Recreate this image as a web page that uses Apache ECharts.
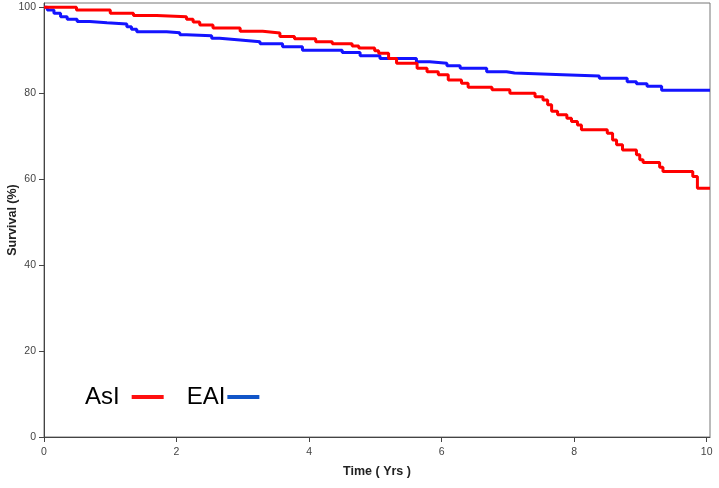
<!DOCTYPE html>
<html>
<head>
<meta charset="utf-8">
<script src="https://cdn.jsdelivr.net/npm/echarts@6/dist/echarts.min.js"></script>
<style>
  html, body { margin: 0; padding: 0; background: #fff; }
  #chart { width: 719px; height: 488px; }
</style>
</head>
<body>
<div id="chart"></div>
<script>
// Kaplan-Meier step data: [time (yrs), survival (%)] at each drop
const seriesNames = ['AsI', 'EAI'];
const asiCurve = [
  [0, 100], [0.49, 99.4], [1.0, 98.6], [1.35, 98.1], [1.7, 97.8], [2.15, 97.2],
  [2.25, 96.6], [2.35, 95.9], [2.55, 95.2], [2.96, 94.4], [3.3, 94.0], [3.56, 93.2],
  [3.78, 92.7], [4.1, 92.0], [4.35, 91.5], [4.65, 91.0], [4.75, 90.5], [4.99, 89.9],
  [5.05, 89.3], [5.2, 88.1], [5.32, 87.0], [5.63, 85.8], [5.78, 85.0], [5.95, 84.3],
  [6.1, 83.1], [6.3, 82.3], [6.4, 81.4], [6.76, 80.8], [7.03, 80.0], [7.41, 79.2],
  [7.53, 78.4], [7.6, 77.3], [7.66, 75.8], [7.75, 75.0], [7.89, 74.2], [7.96, 73.4],
  [8.05, 72.6], [8.11, 71.5], [8.5, 70.7], [8.58, 69.1], [8.64, 68.0], [8.73, 66.8],
  [8.94, 65.7], [8.99, 64.5], [9.04, 63.9], [9.29, 62.8], [9.34, 61.8], [9.79, 60.6],
  [9.86, 57.9], [10.05, 57.9]
];
const eaiCurve = [
  [0, 100], [0.05, 99.4], [0.15, 98.6], [0.25, 97.8], [0.35, 97.2], [0.5, 96.7],
  [0.69, 96.4], [0.95, 96.1], [1.25, 95.5], [1.32, 94.9], [1.4, 94.3], [1.85, 94.1],
  [2.05, 93.6], [2.15, 93.4], [2.53, 92.8], [2.65, 92.4], [2.96, 92.0], [3.26, 91.5],
  [3.6, 90.8], [3.9, 90.0], [4.5, 89.5], [4.77, 88.7], [5.07, 88.1], [5.62, 87.3],
  [5.82, 87.0], [6.08, 86.4], [6.28, 85.8], [6.68, 85.0], [6.98, 84.7], [7.1, 84.3],
  [7.83, 84.0], [8.38, 83.5], [8.8, 82.7], [8.94, 82.2], [9.1, 81.6], [9.32, 80.7],
  [10.05, 80.7]
];
const xTicks = [0, 2, 4, 6, 8, 10];
const yTicks = [0, 20, 40, 60, 80, 100];
const xTitle = 'Time ( Yrs )';
const yTitle = 'Survival (%)';

const chart = echarts.init(document.getElementById('chart'), null, { renderer: 'canvas' });
const axisCol = '#444';
chart.setOption({
  animation: false,
  backgroundColor: '#fff',
  textStyle: { fontFamily: 'Liberation Sans, Arial, sans-serif' },
  grid: {
    left: 44, right: 9, top: 3, bottom: 51,
    containLabel: false, outerBoundsMode: 'none',
    show: true, borderColor: '#777', borderWidth: 1
  },
  legend: {
    left: 85, top: 385, padding: 0,
    align: 'right',
    icon: 'rect',
    itemWidth: 32, itemHeight: 4,
    itemGap: 23,
    textStyle: { fontSize: 24, color: '#000', lineHeight: 24 },
    data: [
      { name: seriesNames[0], itemStyle: { color: '#ff1010' }, textStyle: { padding: [0, 7, 0, 0] } },
      { name: seriesNames[1], itemStyle: { color: '#1155c8' }, textStyle: { padding: [0, -3, 0, 0] } }
    ]
  },
  xAxis: {
    type: 'value', min: 0, max: 10.05, interval: 2,
    name: xTitle, nameLocation: 'middle', nameGap: 28, nameMoveOverlap: false,
    nameTextStyle: { fontWeight: 'bold', fontSize: 12.5, color: '#222' },
    axisLine: { show: true, lineStyle: { color: axisCol, width: 1 } },
    axisTick: { show: true, length: 5, lineStyle: { color: axisCol }, customValues: xTicks },
    axisLabel: { fontSize: 10.5, color: '#444', margin: 10, customValues: xTicks },
    splitLine: { show: false }
  },
  yAxis: {
    type: 'value', min: 0, max: 101, interval: 20,
    name: yTitle, nameLocation: 'middle', nameGap: 25, nameRotate: 90, nameMoveOverlap: false,
    nameTextStyle: { fontWeight: 'bold', fontSize: 12.5, color: '#222' },
    axisLine: { show: true, lineStyle: { color: axisCol, width: 1 } },
    axisTick: { show: true, length: 5, lineStyle: { color: axisCol }, customValues: yTicks },
    axisLabel: { fontSize: 10.5, color: '#444', margin: 8, customValues: yTicks },
    splitLine: { show: false }
  },
  series: [
    {
      name: seriesNames[0], type: 'line', step: 'end', data: asiCurve,
      showSymbol: false, symbol: 'none',
      lineStyle: { color: '#ff0000', width: 3 }, itemStyle: { color: '#ff0000' }, z: 3
    },
    {
      name: seriesNames[1], type: 'line', step: 'end', data: eaiCurve,
      showSymbol: false, symbol: 'none',
      lineStyle: { color: '#1414ff', width: 3 }, itemStyle: { color: '#1414ff' }, z: 2
    }
  ]
});
</script>
</body>
</html>
